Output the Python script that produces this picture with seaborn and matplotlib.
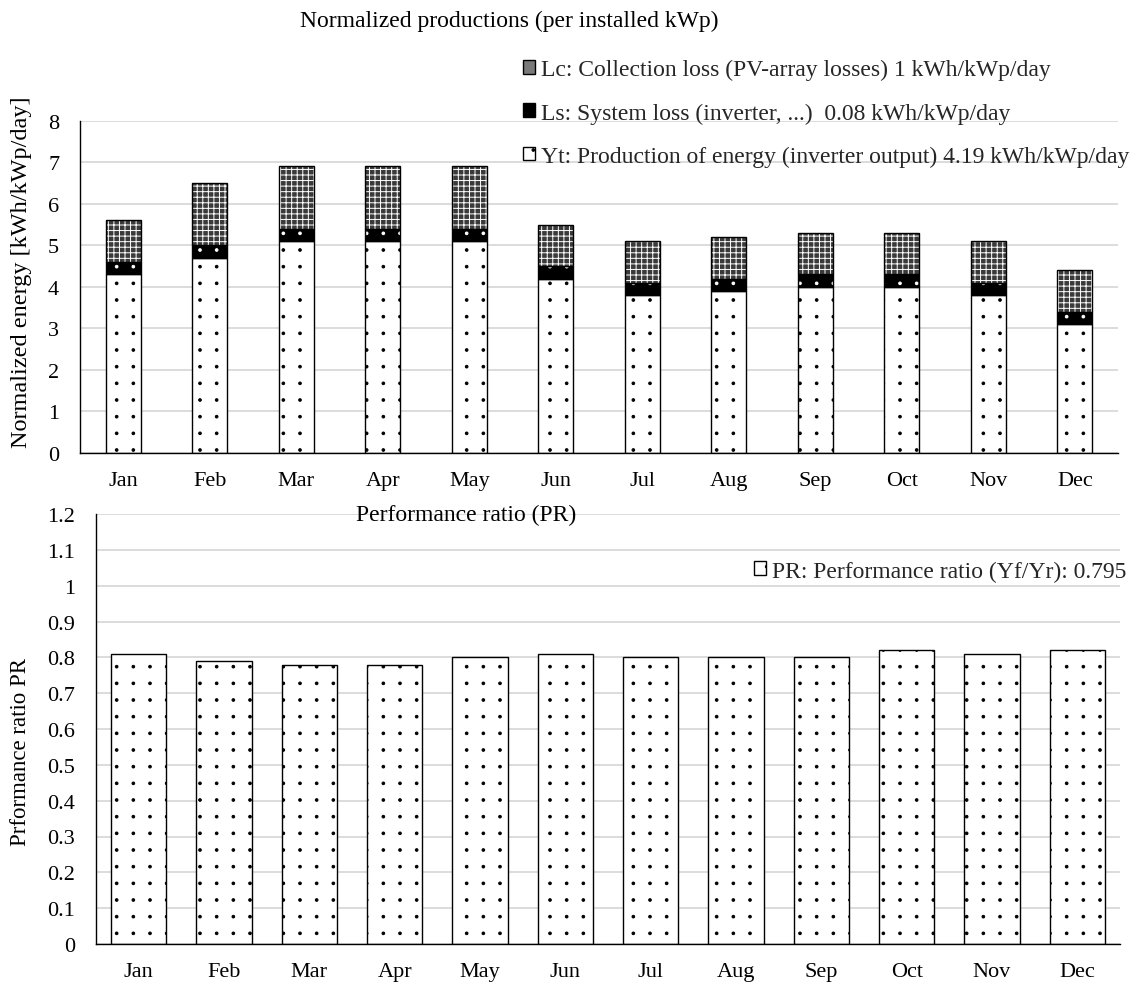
import numpy as np
import matplotlib
matplotlib.use("Agg")
import matplotlib.pyplot as plt
import matplotlib.hatch as mhatch
from matplotlib.patches import Patch
import seaborn as sns

# Monthly normalized yields (kWh/kWp/day)
months = ["Jan", "Feb", "Mar", "Apr", "May", "Jun", "Jul", "Aug", "Sep", "Oct", "Nov", "Dec"]
yt_output = [4.3, 4.7, 5.1, 5.1, 5.1, 4.2, 3.8, 3.9, 4.0, 4.0, 3.8, 3.1]
ls_system_loss = [0.3, 0.3, 0.3, 0.3, 0.3, 0.3, 0.3, 0.3, 0.3, 0.3, 0.3, 0.3]
lc_collection_loss = [1.0, 1.5, 1.5, 1.5, 1.5, 1.0, 1.0, 1.0, 1.0, 1.0, 1.0, 1.0]

# Monthly performance ratio
performance_ratio = [0.81, 0.79, 0.78, 0.78, 0.80, 0.81, 0.80, 0.80, 0.80, 0.82, 0.81, 0.82]

energy_ticks = [0, 1, 2, 3, 4, 5, 6, 7, 8]
pr_ticks = [0, 0.1, 0.2, 0.3, 0.4, 0.5, 0.6, 0.7, 0.8, 0.9, 1.0, 1.1, 1.2]
pr_tick_labels = ["0", "0.1", "0.2", "0.3", "0.4", "0.5", "0.6", "0.7", "0.8", "0.9", "1", "1.1", "1.2"]

legend_lc = "Lc: Collection loss (PV-array losses) 1 kWh/kWp/day"
legend_ls = "Ls: System loss (inverter, ...)  0.08 kWh/kWp/day"
legend_yt = "Yt: Production of energy (inverter output) 4.19 kWh/kWp/day"
legend_pr = "PR: Performance ratio (Yf/Yr): 0.795"


class GridDots(mhatch.SmallFilledCircles):
    """'.' hatch laid out on a square grid instead of staggered rows."""
    size = 0.08

    def __init__(self, hatch, density):
        super().__init__(hatch, density)
        if self.num_rows:
            self.num_shapes = (self.num_rows + 1) ** 2
            self.num_vertices = self.num_shapes * len(self.shape_vertices)

    def set_vertices_and_codes(self, vertices, codes):
        offset = 1.0 / self.num_rows
        shape = self.shape_vertices * offset * self.size
        cols = np.linspace(0, 1, self.num_rows + 1)
        vparts, cparts = [], []
        for row in range(self.num_rows + 1):
            for col in cols:
                vparts.append(shape + [col, row * offset])
                cparts.append(self.shape_codes)
        np.concatenate(vparts, out=vertices)
        np.concatenate(cparts, out=codes)


mhatch._hatch_types = [GridDots if t is mhatch.SmallFilledCircles else t
                       for t in mhatch._hatch_types]

sns.set_theme(style="white")
plt.rcParams["font.family"] = ["Liberation Serif", "DejaVu Serif"]
plt.rcParams["hatch.linewidth"] = 0.7
FS_TICK = 16
FS_TEXT = 17

# collection-loss fill: dark mesh with light lines
LC_FACE, LC_HATCH, LC_PATTERN = "#3a3a3a", "white", "+++"

fig = plt.figure(figsize=(11.35, 9.87), dpi=100)
W, H = 1135, 987


def px_axes(left, top, right, bottom):
    return fig.add_axes([left / W, 1 - bottom / H, (right - left) / W, (bottom - top) / H])


ax1 = px_axes(80, 121.7, 1118, 454)
ax2 = px_axes(96, 515, 1120, 945)


def hatched_bars(ax, values, bottom, width, face, hatch_color, hatch):
    # filled, hatched segment
    sns.barplot(x=months, y=values, order=months, ax=ax, width=width,
                color=face, saturation=1, bottom=bottom, facecolor=face,
                edgecolor=hatch_color, hatch=hatch, linewidth=0)
    # black outline of the same segment
    sns.barplot(x=months, y=values, order=months, ax=ax, width=width,
                color="black", saturation=1, bottom=bottom, facecolor="none",
                edgecolor="black", linewidth=1.0)


zeros = [0.0] * len(months)
ls_bottom = list(yt_output)
lc_bottom = [a + b for a, b in zip(yt_output, ls_system_loss)]

W1 = 0.405
hatched_bars(ax1, yt_output, zeros, W1, "white", "black", ".")
hatched_bars(ax1, ls_system_loss, ls_bottom, W1, "black", "white", ".")
hatched_bars(ax1, lc_collection_loss, lc_bottom, W1, LC_FACE, LC_HATCH, LC_PATTERN)

W2 = 0.645
hatched_bars(ax2, performance_ratio, zeros, W2, "white", "black", ".")

for ax in (ax1, ax2):
    ax.set_axisbelow(True)
    ax.grid(axis="y", color="#d9d9d9", linewidth=1.3)
    ax.grid(axis="x", visible=False)
    for s in ("top", "right"):
        ax.spines[s].set_visible(False)
    for s in ("left", "bottom"):
        ax.spines[s].set_color("black")
        ax.spines[s].set_linewidth(1.0)
    ax.tick_params(axis="both", length=0, labelsize=FS_TICK, colors="black")
    ax.tick_params(axis="y", pad=15)
    ax.tick_params(axis="x", pad=13)
    ax.set_xlim(-0.5, len(months) - 0.5)
    ax.set_xlabel("")

ax1.set_ylim(0, 8)
ax1.set_yticks(energy_ticks)
ax1.set_yticklabels([str(t) for t in energy_ticks])
ax1.set_ylabel("Normalized energy [kWh/kWp/day]", fontsize=17.5, color="black")
ax1.yaxis.set_label_coords(-0.046, 0.548)

ax2.set_ylim(0, 1.2)
ax2.set_yticks(pr_ticks)
ax2.set_yticklabels(pr_tick_labels)
ax2.set_ylabel("Prformance ratio PR", fontsize=16.5, color="black")
ax2.yaxis.set_label_coords(-0.0635, 0.449)

fig.text(300 / W, 1 - 27 / H, "Normalized productions (per installed kWp)",
         fontsize=FS_TEXT, ha="left", va="baseline", color="black")
fig.text(356 / W, 1 - 521 / H, "Performance ratio (PR)",
         fontsize=FS_TEXT, ha="left", va="baseline", color="black")

handles_top = [
    Patch(facecolor="#7a7a7a", edgecolor="black", linewidth=1.0, label=legend_lc),
    Patch(facecolor="black", edgecolor="black", linewidth=1.0, label=legend_ls),
    Patch(facecolor="white", edgecolor="black", hatch=".", linewidth=1.0, label=legend_yt),
]
fig.legend(handles=handles_top, loc="upper right", bbox_to_anchor=(1129 / W, 1 - 60 / H),
           frameon=False, fontsize=FS_TEXT, handlelength=0.5, handleheight=0.5,
           handletextpad=0.25, labelspacing=0.94, borderaxespad=0, borderpad=0)

handles_pr = [Patch(facecolor="white", edgecolor="black", hatch=".", linewidth=1.0, label=legend_pr)]
fig.legend(handles=handles_pr, loc="center right", bbox_to_anchor=(1126 / W, 1 - 572 / H),
           frameon=False, fontsize=FS_TEXT, handlelength=0.5, handleheight=0.5,
           handletextpad=0.25, borderaxespad=0, borderpad=0)

fig.savefig("out.png", dpi=100, facecolor="white")
